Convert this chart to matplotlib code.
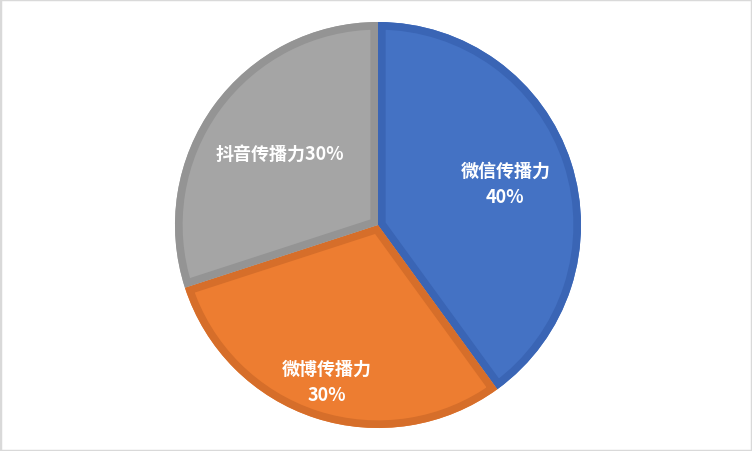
import numpy as np
import matplotlib.pyplot as plt
from matplotlib.patches import Rectangle, Wedge

plt.rcParams['font.family'] = ['Noto Sans CJK SC', 'DejaVu Sans']

labels = ['微信传播力\n40%', '微博传播力\n30%', '抖音传播力30%']
values = [40, 30, 30]
colors = ['#4472C4', '#ED7D31', '#A5A5A5']
edge_colors = ['#3A65B5', '#D66E2A', '#949494']
label_dist = [0.66, 0.81, 0.60]

fig = plt.figure(figsize=(7.52, 4.52), dpi=100)
ax = fig.add_axes([0, 0, 1, 1])

cx, cy, r = 378, 226, 203
wedges, _ = ax.pie(values, colors=colors, startangle=90, counterclock=False,
                   center=(cx, cy), radius=r, frame=True)
ax.set_xlim(0, 752)
ax.set_ylim(0, 452)
ax.set_aspect('equal')
ax.axis('off')

for w, ec, lab, d in zip(wedges, edge_colors, labels, label_dist):
    w.set_linewidth(0)
    # border drawn inside the slice only
    border = Wedge((cx, cy), r, w.theta1, w.theta2, fill=False,
                   edgecolor=ec, linewidth=11)
    ax.add_patch(border)
    border.set_clip_path(w)
    mid = np.deg2rad((w.theta1 + w.theta2) / 2)
    ax.text(cx + d * r * np.cos(mid), cy + d * r * np.sin(mid), lab,
            color='white', fontsize=13, fontweight='bold',
            ha='center', va='center', linespacing=1.5)

fig.patches.append(Rectangle((0, 0), 1, 1, transform=fig.transFigure, fill=False,
                             edgecolor='#D9D9D9', linewidth=2.5))

fig.savefig('out.png', dpi=100, facecolor='white')
